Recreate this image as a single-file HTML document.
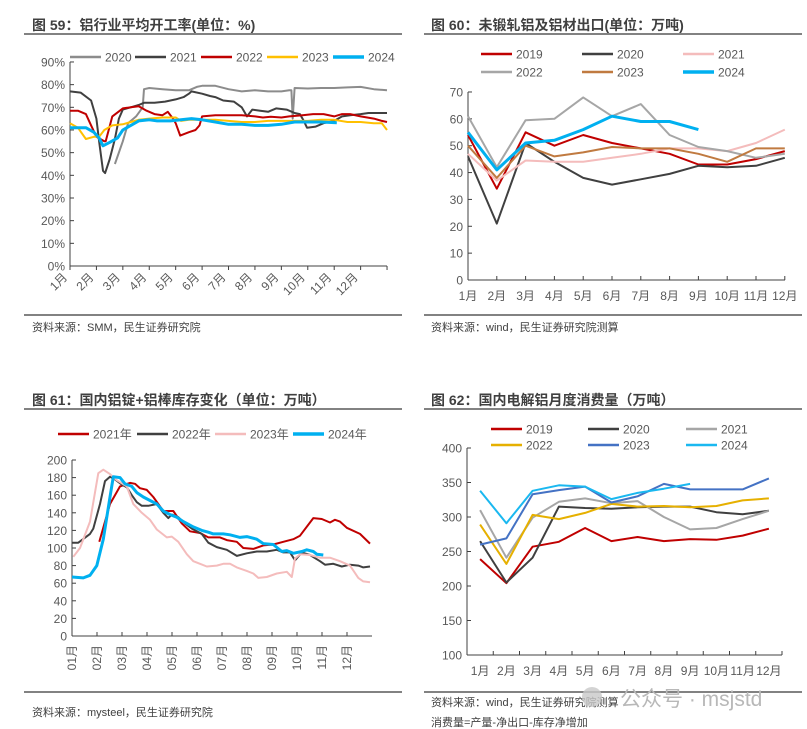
<!DOCTYPE html>
<html><head><meta charset="utf-8"><style>
body{margin:0;background:#fff;}
svg{display:block;font-family:"Liberation Sans","Noto Sans CJK SC",sans-serif;}
.t{font-size:14px;font-weight:bold;fill:#404040;}
.tk{font-size:12px;fill:#595959;}
.src{font-size:11px;fill:#404040;}
.lg{font-size:12px;fill:#595959;}
</style></head><body>
<svg id="s" width="807" height="729" viewBox="0 0 807 729" xmlns="http://www.w3.org/2000/svg">
<text class="t" x="32" y="30">图 59：铝行业平均开工率(单位：%)</text>
<line x1="24" y1="34" x2="402" y2="34" stroke="#595959" stroke-width="1.5"/>
<line x1="24" y1="315" x2="402" y2="315" stroke="#595959" stroke-width="1.5"/>
<text class="src" x="32" y="331">资料来源：SMM，民生证券研究院</text>

<text class="t" x="431" y="30">图 60：未锻轧铝及铝材出口(单位：万吨)</text>
<line x1="424" y1="34" x2="802" y2="34" stroke="#595959" stroke-width="1.5"/>
<line x1="424" y1="315" x2="802" y2="315" stroke="#595959" stroke-width="1.5"/>
<text class="src" x="431" y="331">资料来源：wind，民生证券研究院测算</text>

<text class="t" x="32" y="405">图 61：国内铝锭+铝棒库存变化（单位：万吨）</text>
<line x1="24" y1="409" x2="402" y2="409" stroke="#595959" stroke-width="1.5"/>
<line x1="24" y1="692" x2="402" y2="692" stroke="#595959" stroke-width="1.5"/>
<text class="src" x="32" y="716">资料来源：mysteel，民生证券研究院</text>

<text class="t" x="431" y="405">图 62：国内电解铝月度消费量（万吨）</text>
<line x1="424" y1="409" x2="802" y2="409" stroke="#595959" stroke-width="1.5"/>
<line x1="424" y1="692" x2="802" y2="692" stroke="#595959" stroke-width="1.5"/>
<text class="src" x="431" y="706">资料来源：wind，民生证券研究院测算</text>
<text class="src" x="431" y="726">消费量=产量-净出口-库存净增加</text>
<circle cx="592" cy="697" r="10" fill="#c8c8c8" opacity="0.8"/>
<text x="620" y="706" font-size="21" fill="#b8b8b8">公众号 · msjstd</text>
<g id="g"></g>
</svg>
<script>
// ---- Chart 59 data (x = month position 0..12, y = %) ----
const c59Ticks=["0%","10%","20%","30%","40%","50%","60%","70%","80%","90%"];
const c59Months=["1月","2月","3月","4月","5月","6月","7月","8月","9月","10月","11月","12月"];
const c59_2020=[[1.7,45],[2.0,55],[2.2,63],[2.5,66],[2.75,70],[2.8,78],[3.0,78.5],[3.5,78],[4.0,77.5],[4.5,77.5],[4.8,79],[5.0,79.5],[5.5,79.5],[6.0,78],[6.5,77],[7.0,77.5],[7.5,77],[8.0,77],[8.3,77.5],[8.38,77.5],[8.43,65],[8.5,78.5],[9.0,78.3],[9.5,78.5],[10,78.5],[10.5,78.8],[11,79],[11.5,78],[12,77.5]];
const c59_2021=[[0,77],[0.4,76.5],[0.8,73],[1.0,65],[1.1,55],[1.25,42],[1.33,41],[1.5,47],[1.7,56],[1.85,65],[2.0,69],[2.3,70],[2.6,71],[2.8,72],[3.2,72],[3.6,72.5],[4.0,73.5],[4.3,74.5],[4.5,76],[4.6,77],[5.0,76],[5.3,75],[5.5,74.5],[5.8,73],[6.2,72.5],[6.5,70],[6.7,66],[6.9,69],[7.2,68.5],[7.5,68],[7.8,69.5],[8.2,69],[8.5,67.5],[8.7,67],[8.85,64],[8.97,61],[9.3,61.5],[9.6,63],[10,64],[10.3,66],[10.6,66.5],[11,67],[11.3,67.5],[12,67.5]];
const c59_2022=[[0,68.5],[0.3,68.5],[0.6,67],[0.8,62],[1.0,57],[1.3,55],[1.35,55],[1.6,66],[2.0,69.5],[2.3,70],[2.6,70.5],[2.9,68.5],[3.2,67],[3.5,66.5],[3.7,68],[3.9,65],[4.0,63],[4.17,57.5],[4.5,59],[4.75,60],[4.9,62],[5.0,66],[5.5,66.5],[6.0,66.5],[6.5,66.5],[7.0,66],[7.3,65.5],[7.6,65.8],[8.0,65.5],[8.3,66],[8.8,66.5],[9.2,67],[9.6,67],[10.0,66],[10.3,67],[10.6,67],[11.0,66],[11.5,65],[11.8,64],[12,63.5]];
const c59_2023=[[0,63],[0.3,61],[0.6,56],[0.9,57],[1.1,57],[1.3,60],[1.6,62],[2.0,62.5],[2.3,63.5],[2.6,64.5],[3.0,65],[3.5,65.5],[4.0,65.5],[4.2,64],[4.5,64.5],[5.0,64.5],[5.5,64.5],[6.0,64],[6.5,63.5],[7.0,63.5],[7.5,64],[8.0,64],[8.5,64],[9.0,64],[9.5,64.5],[10.0,64.5],[10.5,63.5],[11.0,63.5],[11.5,63],[11.8,63],[12,60]];
const c59_2024=[[0,61],[0.3,61],[0.6,61],[0.9,59],[1.1,56.5],[1.25,53],[1.5,54.5],[1.8,56.5],[2.0,60],[2.3,62],[2.6,64],[3.0,64.5],[3.3,64],[3.8,64],[4.2,64.5],[4.6,65],[5.0,64.5],[5.5,63.5],[6.0,62.5],[6.5,62.5],[7.0,62],[7.5,62],[8.0,62.5],[8.5,63.5],[9.0,63.5],[9.5,63.5],[10.1,63.2]];

// ---- Chart 60 data ----
const c60Ticks=[0,10,20,30,40,50,60,70];
const c60Months=["1月","2月","3月","4月","5月","6月","7月","8月","9月","10月","11月","12月"];
const c60_2019=[54,34,55,50,54,51,49,47,43,43,45,48];
const c60_2020=[46,21,51,44,38,35.5,37.5,39.5,42.5,42,42.5,45.5];
const c60_2021=[47,37,44.5,44,44,45.5,47,49,49,48,51,56];
const c60_2022=[61,42,59.5,60,68,61,65.5,54,49.5,48,45.5,47];
const c60_2023=[50,38,50,46,47.5,49.5,49,49,47,44,49,49];
const c60_2024=[55,41,51,52,56,61,59,59,56];

// ---- Chart 61 data (x = month position) ----
const c61Ticks=[0,20,40,60,80,100,120,140,160,180,200];
const c61Months=["01月","02月","03月","04月","05月","06月","07月","08月","09月","10月","11月","12月"];
const c61_2021=[[1.09,107],[1.52,150],[1.92,170],[2.32,174],[2.52,173],[2.72,168],[2.99,166],[3.25,158],[3.65,142],[4.05,142],[4.39,128],[4.72,119],[5.12,117],[5.45,112],[5.92,112],[6.19,109],[6.59,107],[6.85,100],[7.25,99],[7.65,103],[8.05,104],[8.45,107],[8.85,110],[9.12,114],[9.65,134],[9.99,133],[10.32,129],[10.52,132],[10.72,130],[10.99,123],[11.52,116],[11.92,105]];
const c61_2022=[[0,106],[0.25,106],[0.72,116],[0.85,122],[1.12,150],[1.32,176],[1.52,181],[1.72,178],[1.99,172],[2.19,169],[2.39,160],[2.59,152],[2.79,148],[3.05,148],[3.39,150],[3.65,140],[3.85,134],[3.99,138],[4.25,135],[4.52,128],[4.79,122],[5.19,116],[5.45,106],[5.79,101],[6.19,98],[6.59,91],[6.99,94],[7.39,96],[7.79,96],[8.19,98],[8.45,95],[8.72,95],[8.92,86],[9.19,95],[9.52,92],[9.92,85],[10.12,81],[10.45,82],[10.79,79],[11.12,81],[11.45,80],[11.65,78],[11.92,79]];
const c61_2023=[[0.05,90],[0.32,100],[0.72,130],[1.05,185],[1.25,189],[1.52,184],[1.79,177],[2.19,170],[2.45,150],[2.79,140],[3.12,132],[3.39,121],[3.79,112],[3.99,113],[4.25,107],[4.59,93],[4.85,85],[5.12,82],[5.39,79],[5.79,80],[6.05,82],[6.32,82],[6.59,78],[6.99,74],[7.25,71],[7.45,66],[7.79,67],[8.19,71],[8.59,73],[8.79,67],[8.92,88],[9.12,93],[9.52,92],[9.92,89],[10.32,89],[10.72,85],[11.12,80],[11.45,66],[11.65,62],[11.92,61]];
const c61_2024=[[0,67],[0.45,66],[0.72,69],[0.99,80],[1.25,110],[1.52,158],[1.65,181],[1.92,180],[2.12,173],[2.39,170],[2.59,163],[2.85,158],[3.12,154],[3.39,150],[3.65,142],[3.92,138],[4.19,135],[4.45,130],[4.85,124],[5.19,120],[5.45,118],[5.65,116],[6.05,116],[6.32,115],[6.72,112],[6.99,113],[7.39,110],[7.65,105],[8.05,104],[8.39,96],[8.59,97],[8.85,94],[9.19,96],[9.39,98],[9.65,96],[9.79,93],[10.05,92]];

// ---- Chart 62 data ----
const c62Ticks=[100,150,200,250,300,350,400];
const c62Months=["1月","2月","3月","4月","5月","6月","7月","8月","9月","10月","11月","12月"];
const c62_2019=[239,204,257,264,284,265,271,265,268,267,273,283];
const c62_2020=[265,205,241,315,313,312,314,315,315,307,304,309];
const c62_2021=[310,241,299,322,327,320,323,300,282,284,297,309];
const c62_2022=[289,232,303,297,306,319,315,316,314,316,324,327];
const c62_2023=[260,269,333,339,344,321,330,348,340,340,340,356];
const c62_2024=[338,291,338,346,344,326,335,341,348];

const NS="http://www.w3.org/2000/svg";
const G=document.getElementById('g');
function mk(tag,attrs,txt){const e=document.createElementNS(NS,tag);for(const k in attrs)e.setAttribute(k,attrs[k]);if(txt!==undefined)e.textContent=txt;G.appendChild(e);return e;}
function path(pts,sx,sy,color,w,name){
  const d=pts.map((p,i)=>(i?'L':'M')+sx(p[0]).toFixed(1)+','+sy(p[1]).toFixed(1)).join('');
  const e=mk('path',{d:d,fill:'none',stroke:color,'stroke-width':w,'stroke-linejoin':'round'});
  
  
}
function legendItem(x,y,color,w,label,name){
  const l=mk('line',{x1:x,y1:y,x2:x+31,y2:y,stroke:color,'stroke-width':w});
  
  
  const t=mk('text',{x:x+35,y:y+4.5,class:'lg'},label);
  
  
}
function yAxis(x0,x1,ticks,sy,name,vals){
  const a=mk('line',{x1:x0,y1:sy(vals[0]),x2:x0,y2:sy(vals[vals.length-1]),stroke:'#404040','stroke-width':1});
  
  
  vals.forEach((v,i)=>{
    mk('line',{x1:x0,y1:sy(v),x2:x0+4,y2:sy(v),stroke:'#404040'});
    const t=mk('text',{x:x0-5,y:sy(v)+4.5,class:'tk','text-anchor':'end'},ticks[i]);
    
    
  });
}
const idx=a=>a.map((v,i)=>[i,v]);

// Chart 59
{const sx=m=>70+m*26.42, sy=v=>266-v*2.267;
 yAxis(70,387,c59Ticks,sy,'y-axis-59',[0,10,20,30,40,50,60,70,80,90]);
 const xa=mk('line',{x1:70,y1:266,x2:387,y2:266,stroke:'#404040'});
 
 
 for(let m=0;m<=12;m++) mk('line',{x1:sx(m),y1:266,x2:sx(m),y2:270,stroke:'#404040'});
 c59Months.forEach((s,i)=>{const x=sx(i)-2,y=278;
   const t=mk('text',{x:x,y:y,class:'tk','text-anchor':'end',transform:`rotate(-45 ${x} ${y})`},s);
   
   });
 path(c59_2020,sx,sy,'#8c8c8c',2,'line-2020');
 path(c59_2021,sx,sy,'#404040',2,'line-2021');
 path(c59_2022,sx,sy,'#c00000',2,'line-2022');
 path(c59_2023,sx,sy,'#ffc000',2,'line-2023');
 path(c59_2024,sx,sy,'#00b0f0',3,'line-2024');
 legendItem(70,57,'#8c8c8c',2.5,'2020','legend-2020');
 legendItem(135,57,'#404040',2.5,'2021','legend-2021');
 legendItem(201,57,'#c00000',2.5,'2022','legend-2022');
 legendItem(267,57,'#ffc000',2.5,'2023','legend-2023');
 legendItem(333,57,'#00b0f0',3.5,'2024','legend-2024');
}
// Chart 60
{const sx=i=>468+i*28.8, sy=v=>280-v*2.686;
 yAxis(468,785,c60Ticks,sy,'y-axis-60',c60Ticks);
 const xa=mk('line',{x1:468,y1:280,x2:785,y2:280,stroke:'#404040'});
 
 
 c60Months.forEach((s,i)=>{mk('line',{x1:sx(i),y1:280,x2:sx(i),y2:276,stroke:'#404040'});
   const t=mk('text',{x:sx(i),y:300,class:'tk','text-anchor':'middle'},s);
   
   });
 path(idx(c60_2019),sx,sy,'#c00000',2,'line-2019');
 path(idx(c60_2020),sx,sy,'#404040',2,'line-2020');
 path(idx(c60_2021),sx,sy,'#f4bcbc',2,'line-2021');
 path(idx(c60_2022),sx,sy,'#a6a6a6',2,'line-2022');
 path(idx(c60_2023),sx,sy,'#c07a40',2,'line-2023');
 path(idx(c60_2024),sx,sy,'#00b0f0',3,'line-2024');
 legendItem(481,54,'#c00000',2.5,'2019','legend-2019');
 legendItem(582,54,'#404040',2.5,'2020','legend-2020');
 legendItem(683,54,'#f4bcbc',2.5,'2021','legend-2021');
 legendItem(481,72,'#a6a6a6',2.5,'2022','legend-2022');
 legendItem(582,72,'#c07a40',2.5,'2023','legend-2023');
 legendItem(683,72,'#00b0f0',3.5,'2024','legend-2024');
}
// Chart 61
{const sx=m=>72+m*25, sy=v=>636-v*0.88;
 yAxis(72,372,c61Ticks,sy,'y-axis-61',c61Ticks);
 const xa=mk('line',{x1:72,y1:636,x2:372,y2:636,stroke:'#404040'});
 
 
 c61Months.forEach((s,i)=>{mk('line',{x1:sx(i),y1:636,x2:sx(i),y2:632,stroke:'#404040'});
   const x=sx(i)+4,y=645;
   const t=mk('text',{x:x,y:y,class:'tk','text-anchor':'end',transform:`rotate(-90 ${x} ${y})`},s);
   
   });
 path(c61_2021,sx,sy,'#c00000',2,'line-2021');
 path(c61_2022,sx,sy,'#404040',2,'line-2022');
 path(c61_2023,sx,sy,'#f4bcbc',2,'line-2023');
 path(c61_2024,sx,sy,'#00b0f0',3,'line-2024');
 legendItem(58,434,'#c00000',2.5,'2021年','legend-2021');
 legendItem(137,434,'#404040',2.5,'2022年','legend-2022');
 legendItem(215,434,'#f4bcbc',2.5,'2023年','legend-2023');
 legendItem(293,434,'#00b0f0',3.5,'2024年','legend-2024');
}
// Chart 62
{const bw=26.25, sx=i=>467+bw*(i+0.5), sy=v=>655-(v-100)*0.69;
 yAxis(467,782,c62Ticks,sy,'y-axis-62',c62Ticks);
 const xa=mk('line',{x1:467,y1:655,x2:782,y2:655,stroke:'#404040'});
 
 
 for(let i=0;i<=12;i++) mk('line',{x1:467+i*bw,y1:655,x2:467+i*bw,y2:651,stroke:'#404040'});
 c62Months.forEach((s,i)=>{
   const t=mk('text',{x:sx(i),y:675,class:'tk','text-anchor':'middle'},s);
   
   });
 path(idx(c62_2019),sx,sy,'#c00000',2,'line-2019');
 path(idx(c62_2020),sx,sy,'#404040',2,'line-2020');
 path(idx(c62_2021),sx,sy,'#a6a6a6',2,'line-2021');
 path(idx(c62_2022),sx,sy,'#e6b000',2,'line-2022');
 path(idx(c62_2023),sx,sy,'#4472c4',2,'line-2023');
 path(idx(c62_2024),sx,sy,'#1ab8f0',2,'line-2024');
 legendItem(491,429,'#c00000',2.5,'2019','legend-2019');
 legendItem(588,429,'#404040',2.5,'2020','legend-2020');
 legendItem(686,429,'#a6a6a6',2.5,'2021','legend-2021');
 legendItem(491,445,'#e6b000',2.5,'2022','legend-2022');
 legendItem(588,445,'#4472c4',2.5,'2023','legend-2023');
 legendItem(686,445,'#1ab8f0',2.5,'2024','legend-2024');
}
</script>
</body></html>
